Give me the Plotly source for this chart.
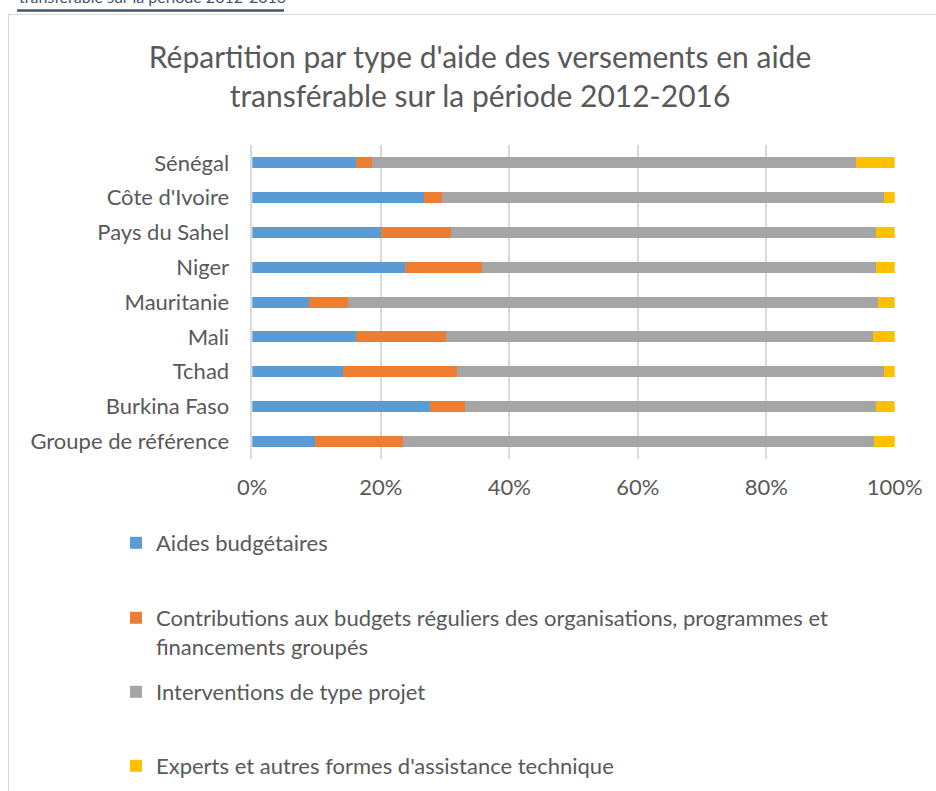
import plotly.graph_objects as go

categories = ["Sénégal", "Côte d'Ivoire", "Pays du Sahel", "Niger", "Mauritanie",
              "Mali", "Tchad", "Burkina Faso", "Groupe de référence"]

aides_budgetaires = [16.1, 26.8, 20.0, 23.8, 8.9, 16.1, 14.1, 27.6, 9.8]
contributions = [2.5, 2.7, 11.0, 11.9, 6.0, 14.1, 17.7, 5.5, 13.6]
interventions_projet = [75.4, 68.9, 66.1, 61.4, 82.5, 66.4, 66.5, 64.0, 73.4]
experts_assistance = [6.0, 1.6, 2.9, 2.9, 2.6, 3.4, 1.7, 2.9, 3.2]

series_names = [
    "Aides budgétaires",
    "Contributions aux budgets réguliers des organisations, programmes et<br>financements groupés",
    "Interventions de type projet",
    "Experts et autres formes d'assistance technique",
]
series_values = [aides_budgetaires, contributions, interventions_projet, experts_assistance]
series_colors = ["#5B9BD5", "#ED7D31", "#A5A5A5", "#FFC000"]
legend_ids = ["legend", "legend2", "legend3", "legend4"]

x_ticks = [0, 20, 40, 60, 80, 100]
x_ticklabels = ["0%", "20%", "40%", "60%", "80%", "100%"]

W, H = 936, 791
FONT = "Lato"
TXT = "#595959"

fig = go.Figure()
for name, vals, col, lg in zip(series_names, series_values, series_colors, legend_ids):
    fig.add_trace(go.Bar(
        y=categories, x=vals, name=name, orientation="h",
        marker=dict(color=col, line=dict(width=0)),
        legend=lg, showlegend=True,
    ))

def py(p):
    return 1 - p / H

def px(p):
    return p / W

legend_common = dict(font=dict(family=FONT, size=22, color=TXT), bgcolor="rgba(0,0,0,0)",
                     borderwidth=0, xanchor="left", yanchor="middle", valign="top",
                     itemclick=False, itemdoubleclick=False, visible=True)
leg_left = px(136 - 20)

fig.update_layout(
    width=W, height=H, autosize=False,
    margin=dict(l=0, r=0, t=0, b=0, pad=0),
    paper_bgcolor="white", plot_bgcolor="white",
    showlegend=True,
    barmode="stack", bargap=0.684,
    font=dict(family=FONT, color=TXT),
    title=dict(
        text="Répartition par type d'aide des versements en aide<br>transférable sur la période 2012-2016",
        x=px(480), xanchor="center", y=py(68), yanchor="middle", yref="paper",
        font=dict(family=FONT, size=30, color=TXT), automargin=False,
    ),
    xaxis=dict(
        domain=[px(252.3), px(894.7)], range=[0, 100],
        tickvals=x_ticks, ticktext=x_ticklabels,
        showgrid=True, gridcolor="#D9D9D9", gridwidth=1.5,
        zeroline=False, showline=False, ticks="",
        tickfont=dict(family=FONT, size=22, color=TXT),
        ticklabelstandoff=13, fixedrange=True, automargin=False,
    ),
    yaxis=dict(
        domain=[py(458.7), py(145.4)], autorange="reversed",
        showline=True, linecolor="#D9D9D9", linewidth=1.5,
        showgrid=False, ticks="",
        tickfont=dict(family=FONT, size=22, color=TXT),
        ticklabelstandoff=17, fixedrange=True, automargin=False,
    ),
    legend=dict(x=leg_left, y=py(543), **legend_common),
    legend2=dict(x=leg_left, y=py(632.5), **legend_common),
    legend3=dict(x=leg_left, y=py(692), **legend_common),
    legend4=dict(x=leg_left, y=py(766), **legend_common),
    shapes=[
        # chart frame (top and left edges)
        dict(type="line", xref="paper", yref="paper", x0=px(8.5), x1=1.0, y0=py(14.5), y1=py(14.5),
             line=dict(color="#D9D9D9", width=1)),
        dict(type="line", xref="paper", yref="paper", x0=px(8.5), x1=px(8.5), y0=py(14.5), y1=0,
             line=dict(color="#D9D9D9", width=1)),
        # underline of the document heading above the chart
        dict(type="line", xref="paper", yref="paper", x0=px(17), x1=px(284), y0=py(10.5), y1=py(10.5),
             line=dict(color="#44546A", width=2.5)),
    ],
    annotations=[
        dict(text="transférable sur la période 2012-2016", xref="paper", yref="paper",
             x=px(17), xanchor="left", y=py(8), yanchor="bottom", showarrow=False,
             font=dict(family=FONT, size=16, color="#44546A")),
    ],
)

fig.write_html("out.html", config={"displayModeBar": False},
               post_script="document.body.style.margin='0px';")
